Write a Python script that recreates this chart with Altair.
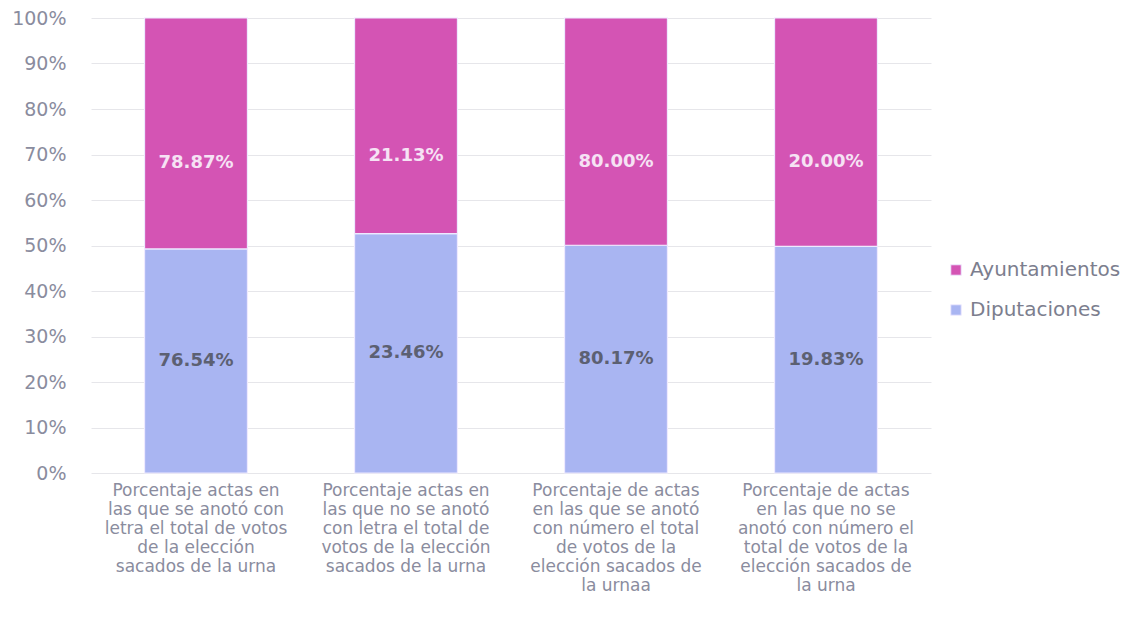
import altair as alt
import pandas as pd

categories = [
    "Porcentaje actas en\nlas que se anotó con\nletra el total de votos\nde la elección\nsacados de la urna",
    "Porcentaje actas en\nlas que no se anotó\ncon letra el total de\nvotos de la elección\nsacados de la urna",
    "Porcentaje de actas\nen las que se anotó\ncon número el total\nde votos de la\nelección sacados de\nla urnaa",
    "Porcentaje de actas\nen las que no se\nanotó con número el\ntotal de votos de la\nelección sacados de\nla urna",
]
series = ["Ayuntamientos", "Diputaciones"]
diputaciones = [76.54, 23.46, 80.17, 19.83]
ayuntamientos = [78.87, 21.13, 80.00, 20.00]

rows = []
for i, c in enumerate(categories):
    rows.append({"cat": c, "serie": "Diputaciones", "value": diputaciones[i], "order": 0})
    rows.append({"cat": c, "serie": "Ayuntamientos", "value": ayuntamientos[i], "order": 1})
df = pd.DataFrame(rows)

font = "DejaVu Sans"
colors = ["#d454b4", "#a9b5f2"]

base = alt.Chart(df).transform_joinaggregate(
    total="sum(value)", groupby=["cat"]
).transform_calculate(
    frac="datum.value / datum.total",
    label="format(datum.value, '.2f') + '%'",
).transform_window(
    cum="sum(frac)", groupby=["cat"], sort=[alt.SortField("order")]
).transform_calculate(
    start="datum.cum - datum.frac",
    mid="datum.cum - datum.frac / 2",
)

x_enc = alt.X(
    "cat:N",
    sort=categories,
    title=None,
    scale=alt.Scale(paddingInner=0.51, paddingOuter=0.255),
    axis=alt.Axis(
        labelAngle=0,
        labelExpr="split(datum.label, '\\n')",
        labelFont=font,
        labelFontSize=17,
        labelColor="#8a8c9e",
        labelLineHeight=19,
        labelPadding=9,
        labelBaseline="top",
        ticks=False,
        domain=False,
        labelLimit=300,
    ),
)

bars = base.mark_bar(stroke="#eeeaff", strokeWidth=1.2).encode(
    x=x_enc,
    y=alt.Y(
        "start:Q",
        scale=alt.Scale(domain=[0, 1]),
        title=None,
        axis=alt.Axis(
            format="%",
            values=[i / 10 for i in range(11)],
            labelFont=font,
            labelFontSize=19,
            labelColor="#8a8c9e",
            labelPadding=25,
            ticks=False,
            domain=False,
            grid=True,
            gridColor="#e6e6ea",
        ),
    ),
    y2="cum:Q",
    color=alt.Color(
        "serie:N",
        scale=alt.Scale(domain=series, range=colors),
        legend=alt.Legend(
            title=None,
            orient="none",
            legendX=855,
            legendY=242,
            labelFont=font,
            labelFontSize=20,
            labelColor="#7c7e8e",
            labelOffset=4,
            symbolType="square",
            symbolSize=110,
            symbolStrokeWidth=1,
            rowPadding=20,
        ),
    ),
)

bottom_text = base.transform_filter("datum.serie == 'Diputaciones'").mark_text(
    font=font, fontSize=18, fontWeight="bold", color="#5c6072"
).encode(x=alt.X("cat:N", sort=categories), y="mid:Q", text="label:N")

top_text = base.transform_filter("datum.serie == 'Ayuntamientos'").mark_text(
    font=font, fontSize=18, fontWeight="bold", color="#f6e2f4", dy=30
).encode(x=alt.X("cat:N", sort=categories), y="mid:Q", text="label:N")

chart = alt.layer(bars, bottom_text, top_text).properties(
    width=840,
    height=455,
    autosize=alt.AutoSizeParams(type="none"),
    padding={"left": 83, "top": 10, "right": 190, "bottom": 150},
).configure_view(stroke=None)

chart.save("out.html", embed_options={"renderer": "svg", "actions": False})
